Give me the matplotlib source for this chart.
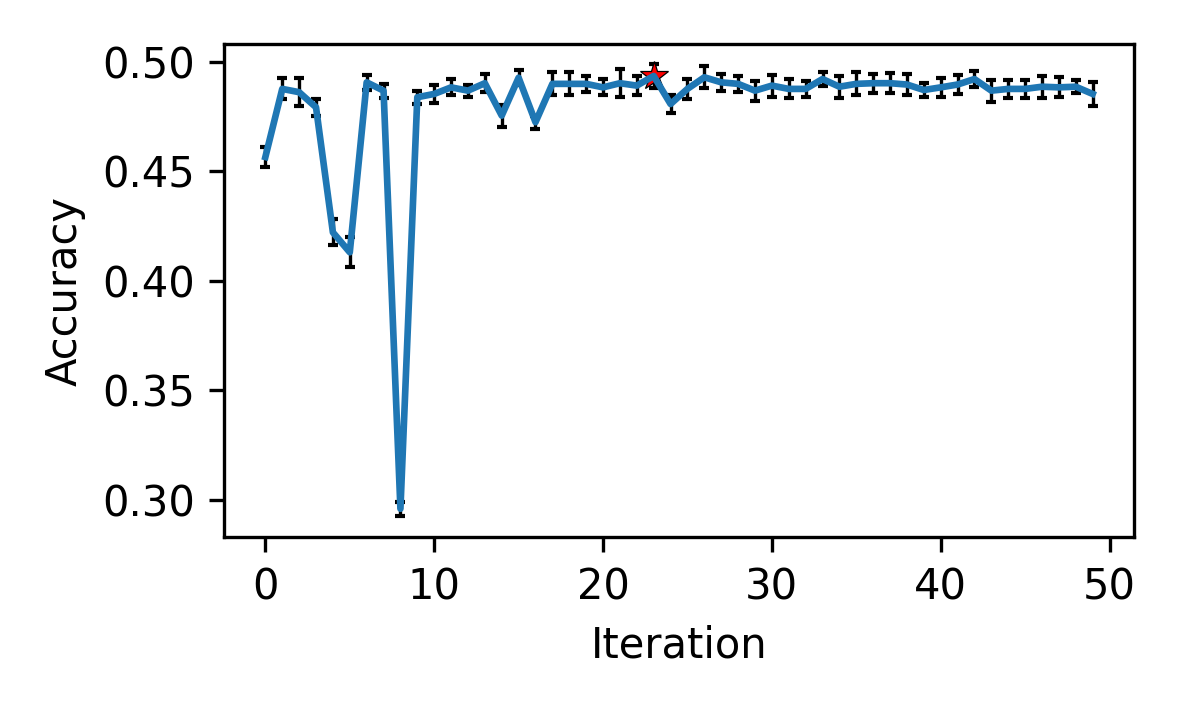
import numpy as np
import matplotlib
matplotlib.use('Agg')
import matplotlib.pyplot as plt

iteration = np.arange(50)
acc_mean = [0.4566, 0.4877, 0.4862, 0.4793, 0.4222, 0.4131, 0.4907, 0.4869, 0.2960, 0.4839,
            0.4854, 0.4884, 0.4869, 0.4903, 0.4755, 0.4928, 0.4725, 0.4900, 0.4900, 0.4900,
            0.4884, 0.4903, 0.4892, 0.4936, 0.4808, 0.4877, 0.4930, 0.4907, 0.4900, 0.4869,
            0.4892, 0.4877, 0.4877, 0.4922, 0.4887, 0.4900, 0.4903, 0.4903, 0.4897, 0.4872,
            0.4884, 0.4897, 0.4922, 0.4869, 0.4877, 0.4877, 0.4887, 0.4884, 0.4887, 0.4854]
acc_err = [0.0046, 0.0048, 0.0065, 0.0038, 0.0060, 0.0068, 0.0034, 0.0032, 0.0033, 0.0030,
           0.0042, 0.0037, 0.0028, 0.0042, 0.0050, 0.0035, 0.0029, 0.0053, 0.0052, 0.0038,
           0.0037, 0.0063, 0.0044, 0.0053, 0.0040, 0.0046, 0.0050, 0.0038, 0.0038, 0.0046,
           0.0050, 0.0043, 0.0037, 0.0030, 0.0050, 0.0053, 0.0043, 0.0047, 0.0050, 0.0034,
           0.0044, 0.0042, 0.0038, 0.0050, 0.0042, 0.0041, 0.0050, 0.0046, 0.0029, 0.0053]

best = int(np.argmax(acc_mean))

fig = plt.figure(figsize=(1181 / 300, 708 / 300), dpi=300)
ax = fig.add_axes([224 / 1181, 1 - 537 / 708, (1134 - 224) / 1181, (537 - 44) / 708])
ax.errorbar(iteration, acc_mean, yerr=acc_err, color='#1f77b4', ecolor='black',
            elinewidth=0.8, capsize=1.2, capthick=1, linewidth=1.6)
ax.plot(iteration[best], acc_mean[best], marker='*', color='red', markeredgecolor='black',
        markeredgewidth=0.3, markersize=7)
ax.set_ylim(0.2831, 0.5082)
ax.set_xlabel('Iteration')
ax.set_ylabel('Accuracy')
fig.savefig('out.png', dpi=300)
